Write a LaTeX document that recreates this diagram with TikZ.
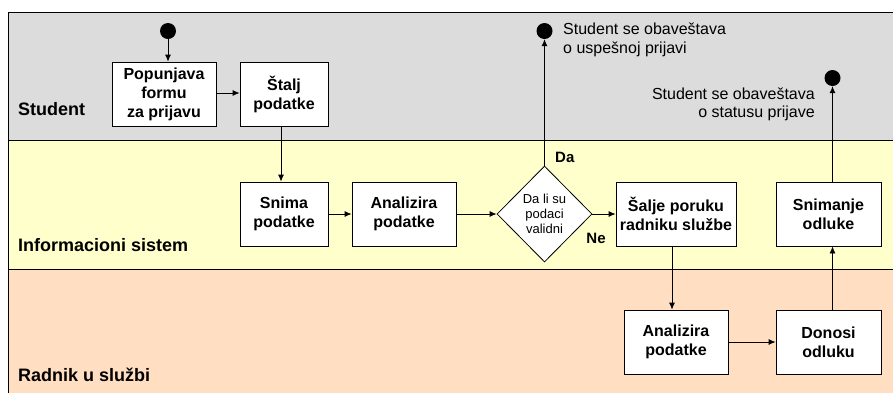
\documentclass[tikz,border=0pt]{standalone}
\usepackage{fontspec}
\setmainfont{Liberation Sans}
\usetikzlibrary{shapes.geometric,arrows.meta,shadows,calc}
\definecolor{lanegray}{HTML}{DCDCDC}
\definecolor{laneyellow}{HTML}{FFFFCC}
\definecolor{lanepeach}{HTML}{FFDEC2}
\tikzset{
  lane/.style={draw=black,line width=0.9pt},
  lanelabel/.style={anchor=base west,inner sep=0pt,font=\fontsize{18}{21}\selectfont\bfseries},
  actbox/.style={draw=black,fill=white,line width=0.8pt,inner sep=0pt,align=center,
    minimum height=64pt,font=\fontsize{16}{19}\selectfont\bfseries,
    drop shadow={shadow xshift=1.3pt,shadow yshift=-1.3pt,fill=gray!70,opacity=1}},
  decision/.style={diamond,draw=black,fill=white,line width=0.8pt,inner sep=0pt,align=center,
    minimum width=95pt,minimum height=96pt,font=\fontsize{13}{15}\selectfont},
  dot/.style={circle,fill=black,inner sep=0pt,minimum size=16pt},
  flow/.style={line width=0.8pt,-{Latex[length=7pt,width=6pt]}},
  note/.style={inner sep=0pt,font=\fontsize{16}{18.5}\selectfont},
  guard/.style={inner sep=0pt,font=\fontsize{15}{18}\selectfont\bfseries}
}
\begin{document}
\begin{tikzpicture}[x=1pt,y=-1pt]
\useasboundingbox (0,0) rectangle (893,392);
\begin{scope}
\clip (0,0) rectangle (893,392);
\fill[white] (0,0) rectangle (893,392);
\filldraw[lane,fill=lanegray] (8,12) rectangle (905,140);
\filldraw[lane,fill=laneyellow] (8,140) rectangle (905,269);
\filldraw[lane,fill=lanepeach] (8,269) rectangle (905,405);
\end{scope}
\node[lanelabel] (lStudent) at (18,115) {Student};
\node[lanelabel] (lIS) at (18,251) {Informacioni sistem};
\node[lanelabel] (lRad) at (18,381) {Radnik u službi};

\node[dot] (start) at (168,31) {};
\node[dot] (endA) at (544.5,31) {};
\node[dot] (endB) at (832.5,78) {};

\node[actbox,minimum width=104pt] (pop) at (164,94) {Popunjava\\formu\\za prijavu};
\node[actbox,minimum width=88pt] (stalj) at (284,94) {Štalj\\podatke};
\node[actbox,minimum width=88pt] (snima) at (284,214) {Snima\\podatke};
\node[actbox,minimum width=104pt] (anal1) at (404,214) {Analizira\\podatke};
\node[decision] (dec) at (544.5,214) {Da li su\\podaci\\validni};
\node[actbox,minimum width=120pt] (salje) at (676,214) {Šalje poruku\\radniku službe};
\node[actbox,minimum width=105pt] (snimanje) at (828.5,214) {Snimanje\\odluke};
\node[actbox,minimum width=104pt] (anal2) at (676,342) {Analizira\\podatke};
\node[actbox,minimum width=105pt] (donosi) at (828.5,342) {Donosi\\odluku};

\node[note,anchor=west,align=left] (noteA) at (563,40) {Student se obaveštava\\o uspešnoj prijavi};
\node[note,anchor=east,align=right] (noteB) at (815,104.5) {Student se obaveštava\\o statusu prijave};
\node[guard,anchor=west] (da) at (555,157) {Da};
\node[guard] (ne) at (596,238) {Ne};

\draw[flow] (start) -- (start |- pop.north);
\draw[flow] (pop.east |- 0,93) -- (stalj.west |- 0,93);
\draw[flow] ([xshift=-3pt]stalj.south) -- ([xshift=-3pt]snima.north);
\draw[flow] (snima) -- (anal1);
\draw[flow] (anal1) -- (dec);
\draw[flow] (dec.north) -- (endA);
\draw[flow] (dec) -- (salje);
\draw[flow] ([xshift=-4pt]salje.south) -- ([xshift=-4pt]anal2.north);
\draw[flow] (anal2) -- (donosi);
\draw[flow] (donosi.north -| endB) -- (snimanje.south -| endB);
\draw[flow] (snimanje.north -| endB) -- (endB);
\end{tikzpicture}
\end{document}
